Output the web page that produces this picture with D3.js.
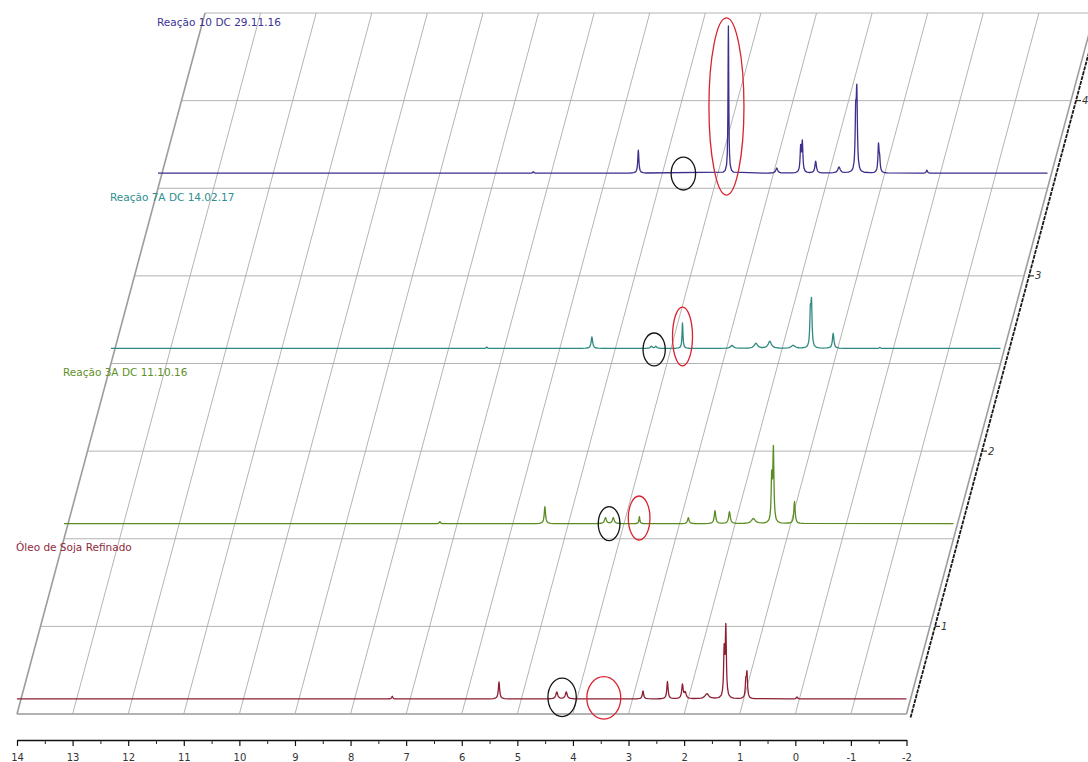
<!DOCTYPE html>
<html>
<head>
<meta charset="utf-8">
<script src="https://cdn.jsdelivr.net/npm/d3@7"></script>
<style>
  body { margin: 0; background: #fff; }
  svg { display: block; }
  text { font-family: "DejaVu Sans", Verdana, sans-serif; }
</style>
</head>
<body>
<svg id="chart" width="1088" height="762"></svg>
<script>
// ---- data -------------------------------------------------------------
// chemical-shift axis (ppm) and stack depth axis
const shiftTicks = [14, 13, 12, 11, 10, 9, 8, 7, 6, 5, 4, 3, 2, 1, 0, -1, -2];
const depthTicks = [1, 2, 3, 4];
const depthGrid = [0.5, 1, 1.5, 2, 2.5, 3, 3.5, 4, 4.5];

// stacked spectra, front to back
const spectrumNames = ["Óleo de Soja Refinado", "Reação 3A DC 11.10.16", "Reação 7A DC 14.02.17", "Reação 10 DC 29.11.16"];
const spectrumDepths = [0.5, 1.5, 2.5, 3.5];

// peaks: [ppm, intensity, half-width (ppm)]
const peaksOleo = [
  [7.25, 1.5, 0.012], [5.33, 9.7, 0.014], [4.29, 4.0, 0.02], [4.12, 4.0, 0.02],
  [2.74, 4.6, 0.014], [2.30, 9.9, 0.014], [2.03, 8.0, 0.016], [1.98, 3.5, 0.02],
  [1.59, 2.9, 0.04], [1.28, 26, 0.012], [1.25, 39.4, 0.012], [0.89, 9.0, 0.012],
  [0.87, 13.7, 0.012], [-0.03, 1.1, 0.012]
];
const peaks3A = [
  [7.24, 1.2, 0.012], [5.35, 9.7, 0.014], [4.26, 3.4, 0.02], [4.12, 3.4, 0.02],
  [3.65, 4.0, 0.01], [2.77, 3.4, 0.016], [2.29, 7.4, 0.016], [2.03, 6.8, 0.018],
  [1.60, 2.9, 0.04], [1.27, 25, 0.012], [1.24, 41.1, 0.012], [0.86, 12.6, 0.014]
];
const peaks7A = [
  [7.24, 0.8, 0.012], [5.35, 6.6, 0.016], [4.28, 1.2, 0.02], [4.20, 1.2, 0.02],
  [3.72, 14.5, 0.01], [2.83, 1.7, 0.03], [2.40, 2.9, 0.035], [2.15, 4.0, 0.035],
  [1.73, 1.7, 0.04], [1.42, 19, 0.012], [1.40, 24, 0.012], [1.01, 8.6, 0.016],
  [0.17, 0.6, 0.012]
];
const peaks10 = [
  [7.25, 0.8, 0.012], [5.36, 13.1, 0.012], [3.74, 84, 0.008], [2.87, 2.9, 0.02],
  [2.44, 14, 0.012], [2.41, 17, 0.012], [2.17, 6.8, 0.016], [1.75, 3.4, 0.025],
  [1.45, 30, 0.012], [1.43, 42.8, 0.012], [1.04, 15.4, 0.012], [1.02, 7, 0.012],
  [0.17, 1.7, 0.012]
];
const spectrumPeaks = [peaksOleo, peaks3A, peaks7A, peaks10];

// highlighted regions: [spectrum index, ppm from, ppm to, intensity from, intensity to]
const blackMarks = [
  [0, 4.45, 3.94, -1.5, 20.5], [1, 4.39, 4.00, -1.1, 18.3],
  [2, 4.43, 4.03, -1.4, 17.4], [3, 4.77, 4.33, -1.0, 17.8]
];
const redMarks = [
  [0, 3.75, 3.14, -2.9, 21.3], [1, 3.85, 3.46, -0.7, 24.4],
  [2, 3.90, 3.54, -1.4, 32.2], [3, 4.09, 3.46, -3.9, 97.2]
];

// ---- layout ------------------------------------------------------------
const svg = d3.select("#chart");
const x = d3.scaleLinear().domain([14, -2]).range([17, 906.5]);
const yDepth = d3.scaleLinear().domain([0.5, 4.5]).range([714, 13]);
const slant = (205 - 17) / (714 - 13);           // oblique depth projection
const inten = d3.scaleLinear().domain([0, 100]).range([0, 175.25]);
const baselineLift = 8.6;                         // spectrum baseline above its slot line
const pxPerPpm = Math.abs(x(0) - x(1));

function proj(ppm, z, v = 0) {
  const yz = yDepth(z);
  return [x(ppm) + slant * (yDepth(0.5) - yz), yz - inten(v)];
}

const spectrumColors = ["#8c1f33", "#5a8c22", "#2e8a80", "#3a2f8c"];
const labelColors = ["#8e2a3c", "#5f9028", "#2f8e8e", "#3b3496"];

// ---- floor grid --------------------------------------------------------
const grid = svg.append("g");
grid.selectAll("line.h").data(depthGrid).join("line")
  .attr("x1", d => proj(14, d)[0]).attr("y1", d => proj(14, d)[1])
  .attr("x2", d => proj(-2, d)[0]).attr("y2", d => proj(-2, d)[1])
  .attr("stroke", "#b3b3b3").attr("stroke-width", d => d === 0.5 ? 1.8 : 1);
grid.selectAll("line.v").data(shiftTicks).join("line")
  .attr("x1", d => proj(d, 0.5)[0]).attr("y1", d => proj(d, 0.5)[1])
  .attr("x2", d => proj(d, 4.5)[0]).attr("y2", d => proj(d, 4.5)[1])
  .attr("stroke", d => (d === 14 || d === -2) ? "#9c9c9c" : "#ababab")
  .attr("stroke-width", d => (d === 14 || d === -2) ? 1.6 : 0.9);

// ---- depth axis along the right edge ------------------------------------
const axOff = 5;
const depthAxis = svg.append("g");
const pA = proj(-2, 0.48), pB = proj(-2, 4.7);
depthAxis.append("line")
  .attr("x1", pA[0] + axOff).attr("y1", pA[1])
  .attr("x2", pB[0] + axOff).attr("y2", pB[1])
  .attr("stroke", "#1a1a1a").attr("stroke-width", 1.8)
  .attr("stroke-dasharray", "4,1");
const dt = depthAxis.selectAll("g.t").data(depthTicks).join("g")
  .attr("transform", d => { const p = proj(-2, d); return `translate(${p[0] + axOff},${p[1]})`; });
dt.append("line").attr("x1", 0).attr("x2", 5).attr("stroke", "#222").attr("stroke-width", 1.1);
dt.append("text").attr("x", 6).attr("dy", "0.35em")
  .attr("font-size", 10).attr("font-style", "italic").attr("fill", "#333")
  .text(d => d);

// ---- bottom chemical-shift axis -----------------------------------------
const axisY = 740;
const major = svg.append("g").attr("transform", `translate(0,${axisY})`)
  .call(d3.axisBottom(x).tickValues(shiftTicks).tickSize(6).tickSizeOuter(0).tickPadding(8)
        .tickFormat(d => String(d)));
major.select(".domain").attr("stroke", "#111").attr("stroke-width", 1.3);
major.selectAll(".tick line").attr("stroke", "#111").attr("stroke-width", 1.2);
major.selectAll(".tick text").attr("font-size", 10).attr("fill", "#333")
  .attr("font-family", "DejaVu Sans, sans-serif");
const minorVals = shiftTicks.slice(0, -1).map(d => d - 0.5);
const minor = svg.append("g").attr("transform", `translate(0,${axisY})`)
  .call(d3.axisBottom(x).tickValues(minorVals).tickSize(4).tickSizeOuter(0).tickFormat(""));
minor.select(".domain").remove();
minor.selectAll(".tick line").attr("stroke", "#222").attr("stroke-width", 1);

// ---- spectra -------------------------------------------------------------
const lineGen = d3.line();
const sampleSteps = [0, 0.4, 0.8, 1.2, 1.8, 2.6, 4, 7, 12];
spectrumPeaks.forEach((peaks, i) => {
  const z = spectrumDepths[i];
  let pts = [14, -2];
  peaks.forEach(([p, , w]) => sampleSteps.forEach(s => { pts.push(p + s * w); pts.push(p - s * w); }));
  pts = Array.from(new Set(pts.map(v => +v.toFixed(5)))).sort((a, b) => b - a);
  const profile = pts.map(ppm => {
    let v = baselineLift;
    peaks.forEach(([p, h, w]) => { const d = (ppm - p) / w; v += h / (1 + d * d); });
    return proj(ppm, z, v);
  });
  svg.append("path").attr("d", lineGen(profile))
    .attr("fill", "none").attr("stroke", spectrumColors[i])
    .attr("stroke-width", 1.3).attr("stroke-linejoin", "round");
});

// ---- spectrum names ------------------------------------------------------
svg.selectAll("text.name").data(spectrumNames).join("text")
  .attr("x", (d, i) => proj(14, spectrumDepths[i])[0] - 1)
  .attr("y", (d, i) => yDepth(spectrumDepths[i] + 1) + 12.5)
  .attr("font-size", 10.5).attr("fill", (d, i) => labelColors[i])
  .text(d => d);

// ---- highlighted regions -------------------------------------------------
function markEllipse(sel, color) {
  sel.join("ellipse")
    .attr("cx", d => (proj(d[1], spectrumDepths[d[0]])[0] + proj(d[2], spectrumDepths[d[0]])[0]) / 2)
    .attr("cy", d => (proj(0, spectrumDepths[d[0]], d[3])[1] + proj(0, spectrumDepths[d[0]], d[4])[1]) / 2)
    .attr("rx", d => Math.abs(d[1] - d[2]) * pxPerPpm / 2)
    .attr("ry", d => Math.abs(inten(d[4]) - inten(d[3])) / 2)
    .attr("fill", "none").attr("stroke", color).attr("stroke-width", 1.3);
}
markEllipse(svg.append("g").selectAll("ellipse").data(blackMarks), "#151515");
markEllipse(svg.append("g").selectAll("ellipse").data(redMarks), "#d8232f");
</script>
</body>
</html>
